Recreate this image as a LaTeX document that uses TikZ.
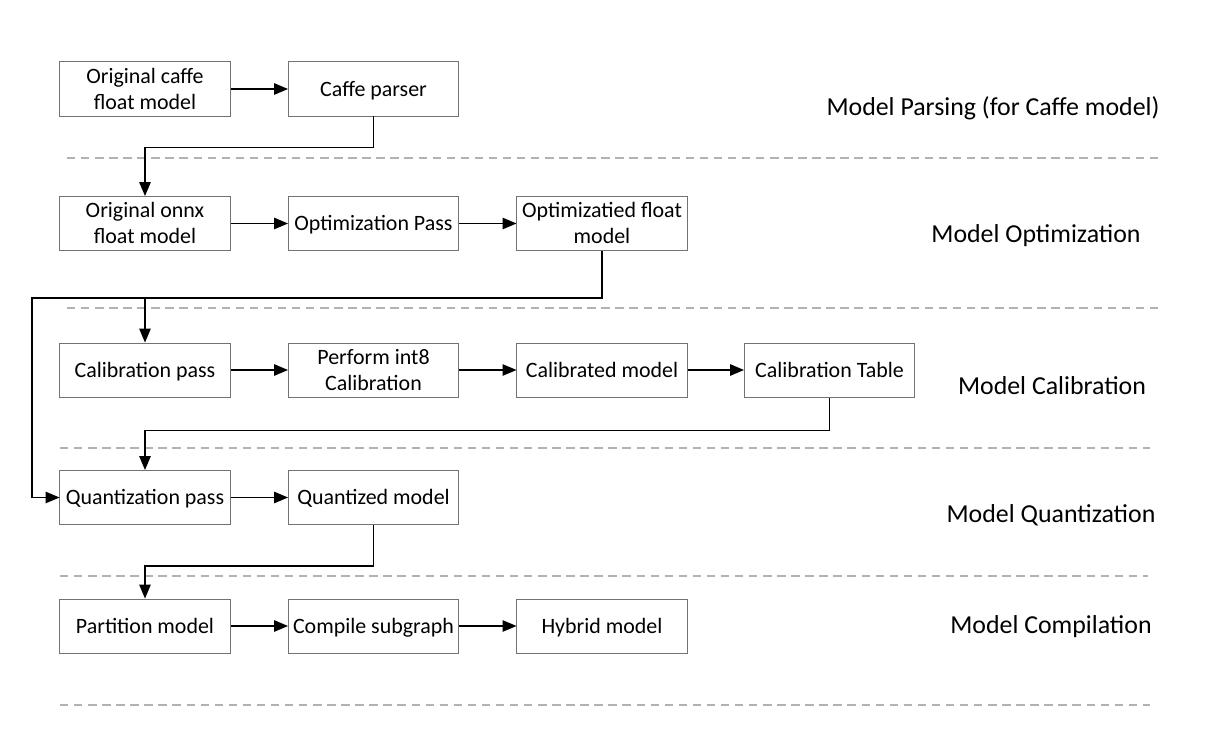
\documentclass[tikz,border=0pt]{standalone}
\usepackage{fontspec}
\setmainfont{Carlito}
\usepackage{tikz}
\usetikzlibrary{positioning, arrows}
\newcommand{\boxstrut}{\rule[-0.28em]{0pt}{1.2em}}

\begin{document}
\begin{tikzpicture}[x=0.025cm, y=-0.025cm, ->, >=triangle 45,
    box/.style={draw=black!55, line width=0.7pt, minimum width=4.25cm, minimum height=1.35cm,
        align=center, inner sep=0pt, font=\fontsize{15.6}{18.5}\selectfont,
        execute at begin node=\boxstrut, execute at end node=\boxstrut},
    twoline/.style={execute at begin node=\rule{0pt}{33.4pt}},
    stage/.style={font=\fontsize{18.4}{22}\selectfont},
    sep/.style={-, draw=black!30, line width=0.9pt, dash pattern=on 6pt off 4pt},
    every path/.style={line width=1.3pt}]
    \useasboundingbox (0,0) rectangle (1206,736);
    % boxes
    \node[box, twoline] (caffe) at (145,89) {Original caffe\\float model};
    \node[box] (parser) at (373.5,89) {Caffe parser};
    \node[box, twoline] (onnx) at (145,223.5) {Original onnx\\float model};
    \node[box] (optp) at (373.5,223.5) {Optimization Pass};
    \node[box, twoline] (optf) at (602,223.5) {Optimizatied float\\model};
    \node[box] (calp) at (145,370) {Calibration pass};
    \node[box, twoline] (perf) at (373.5,370) {Perform int8\\Calibration};
    \node[box] (calm) at (602,370) {Calibrated model};
    \node[box] (calt) at (829.5,370) {Calibration Table};
    \node[box] (quant) at (145,497.5) {Quantization pass};
    \node[box] (qmod) at (373.5,497.5) {Quantized model};
    \node[box] (part) at (145,626) {Partition model};
    \node[box] (comp) at (373.5,626) {Compile subgraph};
    \node[box] (hyb) at (602,626) {Hybrid model};
    % stage labels
    \node[stage] (l1) at (993,108) {Model Parsing (for Caffe model)};
    \node[stage] (l2) at (1036,236) {Model Optimization};
    \node[stage] (l3) at (1052,386) {Model Calibration};
    \node[stage] (l4) at (1051,515) {Model Quantization};
    \node[stage] (l5) at (1051,627) {Model Compilation};
    % separators
    \draw[sep] (67,158) -- (1160,158);
    \draw[sep] (67,308) -- (1160,308);
    \draw[sep] (60,448) -- (1150,448);
    \draw[sep] (60,576) -- (1148,576);
    \draw[sep] (60,705) -- (1150,705);
    % flow
    \draw (caffe) -- (parser);
    \draw (onnx) -- (optp);
    \draw (optp) -- (optf);
    \draw (calp) -- (perf);
    \draw (perf) -- (calm);
    \draw (calm) -- (calt);
    \draw (quant) -- (qmod);
    \draw (part) -- (comp);
    \draw (comp) -- (hyb);
    \coordinate (jq) at (32,298);
    \draw (parser.south) -- ++(0,31) -| (onnx.north);
    \draw (optf.south) |- (jq) |- (quant.west);
    \draw (calp.north |- jq) -- (calp.north);
    \draw (calt.south) -- ++(0,33) -| (quant.north);
    \draw (qmod.south) -- ++(0,41) -| (part.north);
\end{tikzpicture}
\end{document}
